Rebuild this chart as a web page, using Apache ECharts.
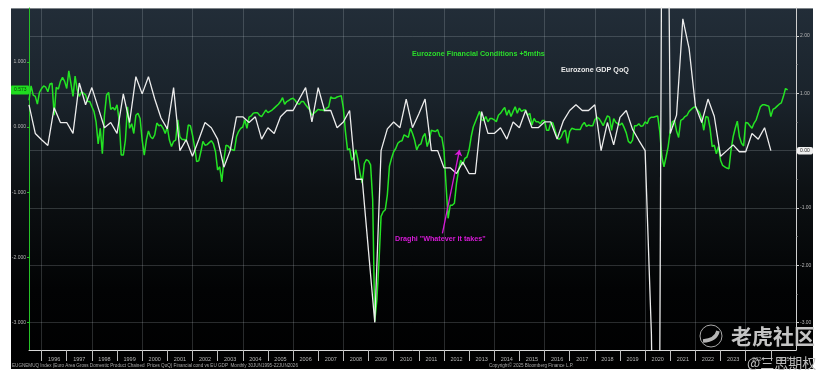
<!DOCTYPE html>
<html><head><meta charset="utf-8">
<style>html,body{margin:0;padding:0;background:#fff}#c{width:832px;height:384px}</style>
<script src="https://cdn.jsdelivr.net/npm/echarts@6/dist/echarts.min.js"></script>
</head><body><div id="c"></div>
<script>
// Eurozone GDP QoQ, quarterly from mid-1995 (right axis)
const gdpStart = 1995.5;
const gdpValues = [
  .80,.30,
  .19,.09,.75,.49,
  .49,.30,1.18,.80,
  1.10,.75,.40,.49,
  .30,.99,.49,1.29,
  .99,1.29,.90,.57,
  .38,1.10,0,.19,
  -.10,.19,.49,.40,
  .20,-.29,0,.59,
  .59,.49,.59,.20,
  .40,.30,.59,.70,
  .70,.90,1.10,.50,
  1.10,.70,.70,.40,
  .50,.70,-.50,-.50,
  -1.75,-3.00,0,.38,
  .50,.40,.90,.40,
  .64,.90,0,0,
  -.30,-.30,-.40,-.20,
  -.40,-.40,.68,.30,
  .30,.40,.20,.50,
  .40,.70,.40,.40,
  .50,.50,.20,.52,
  .70,.80,.70,.70,
  .80,0,.49,.10,
  .58,.70,.37,.18,
  0,-3.20,-11.70,12.40,
  .30,.62,2.30,1.78,
  .78,.49,.90,.60,
  -.10,0,.10,-.02,
  -.02,.30,.20,.40,
  0
];
// Eurozone financial conditions +5 months, monthly from mid-1995 (left axis)
const fcStart = 1995.5;
const fcValues = [
  .41,.63,.49,.47,.35,.53,
  .59,.63,.61,.54,.66,.67,.18,.61,.58,.70,.76,.70,
  .59,.86,.67,.47,.78,.57,.47,.54,.52,.49,.39,.39,
  .31,.24,.08,-.26,-.02,-.41,.18,.49,.53,.27,.30,.26,
  .34,.11,-.43,-.43,-.20,.31,-.02,.05,-.10,.18,.21,.13,
  -.20,-.43,-.20,-.06,-.15,-.18,-.12,.06,.02,.03,-.02,-.10,
  0,-.20,-.30,-.22,-.20,.11,-.15,-.19,-.19,-.22,.03,.02,
  -.12,-.30,-.53,-.52,-.38,-.22,-.28,-.27,-.24,-.21,-.26,-.38,
  -.66,-.61,-.84,-.51,-.28,-.29,-.33,-.35,-.36,-.15,-.07,-.02,
  0,.11,-.02,.15,.17,.21,.22,.22,.18,.16,.21,.26,
  .22,.24,.26,.29,.32,.35,.39,.45,.35,.39,.41,.43,
  .44,.41,.36,.35,.39,.39,.34,.30,.26,.18,.21,.24,
  .27,.26,.26,.25,.29,.31,.46,.44,.44,.46,.47,.48,
  .29,-.07,-.35,-.33,-.51,-.46,-.35,-.51,-.71,-.86,-.56,-.50,
  -.52,-.58,-1.12,-2.98,-2.65,-2.07,-1.37,-1.30,-1.27,-1.04,-.60,-.48,
  -.38,-.33,-.25,-.22,-.21,-.12,-.14,-.16,-.02,-.10,-.20,-.35,
  -.28,-.26,-.15,-.10,-.30,-.20,-.05,-.06,-.07,-.04,-.14,-.16,
  -.35,-.89,-1.40,-1.20,-1.20,-1.17,-.86,-.66,-.51,-.58,-.48,-.46,
  -.35,-.15,0,.08,.16,.24,.11,.10,.16,.08,.13,.13,
  .11,.08,.18,.21,.26,.30,.18,.26,.16,.24,.31,.21,
  .29,.24,.26,.26,.18,.21,.03,.13,.08,.08,.05,.10,
  .10,-.05,-.05,.07,.06,-.05,-.16,-.19,-.15,-.07,-.05,-.25,
  -.07,-.02,-.03,-.04,-.04,-.04,.03,.07,.01,.03,.02,.02,
  .11,.15,.13,.08,.02,.10,.17,.15,-.05,.13,.07,.05,
  .03,.06,-.01,-.09,-.22,-.25,-.20,.02,.02,.05,.01,.02,
  .08,.05,.13,.15,.15,.16,.17,-.07,-.46,-.61,-.46,-.30,
  -.06,.08,.10,-.06,-.16,.10,.12,.16,.18,.24,.27,.30,
  .31,.26,.22,.13,-.05,.16,.15,-.02,-.30,-.28,-.41,-.30,
  -.51,-.59,-.61,-.63,-.64,-.35,-.15,-.02,.09,-.15,-.25,-.29,
  .07,.06,.02,-.02,.06,.11,.21,.31,.34,.34,.33,.32,
  .16,.27,.29,.32,.35,.37,.47,.59,.57
];
const yearTicks = [1996,1997,1998,1999,2000,2001,2002,2003,2004,2005,2006,2007,2008,2009,2010,2011,2012,2013,2014,2015,2016,2017,2018,2019,2020,2021,2022,2023,2024,2025];
const gridYears = [1996,1998,2000,2002,2004,2006,2008,2010,2012,2014,2016,2018,2020,2022,2024];
const leftTicks = [-3,-2,-1,0,1];
const rightTicks = [-3,-2,-1,0,1,2];
const rightHalfTicks = [-2.5,-1.5,-0.5,0.5,1.5];
const arrowFrom = [2011.94,-1.63], arrowTo = [2012.62,-0.35];
const titleFC = 'Eurozone Financial Conditions +5mths';
const titleGDP = 'Eurozone GDP QoQ';
const titleDraghi = 'Draghi "Whatever it takes"';
const footLeft = 'EUGNEMUQ Index (Euro Area Gross Domestic Product Chained  Prices QoQ) Financial cond vs EU GDP  Monthly 30JUN1995-22JUN2026';
const footRight = 'Copyright\u00a9 2025 Bloomberg Finance L.P.';

const FONT = '"Liberation Sans",Arial,sans-serif';
const GREEN = '#24e324', WHITE = '#ececec', MAG = '#d81ad8';
const xMin = 1995.5, xMax = 2026;
const grey = 'rgba(205,215,220,0.20)';
const chart = echarts.init(document.getElementById('c'));
const txt = (x,y,s,size,fill,extra) => ({type:'text',z:100,x,y,style:Object.assign({text:s,font:size,fill,textVerticalAlign:'middle'},extra||{})});
chart.setOption({
  animation:false,
  backgroundColor:'#fff',
  grid:{left:29,right:36,top:8,bottom:34,containLabel:false},
  xAxis:[
    {type:'value',min:xMin,max:xMax,position:'bottom',
     axisLine:{show:true,onZero:false,lineStyle:{color:'#d8d8d8',width:1}},
     axisTick:{show:true,length:11,customValues:yearTicks,lineStyle:{color:'#bdbdbd',width:1}},
     axisLabel:{show:true,customValues:yearTicks.map(y=>y+0.5),formatter:v=>String(Math.floor(v)),color:'#b5b5b5',fontSize:5.5,fontFamily:FONT,margin:6,showMinLabel:true,showMaxLabel:true},
     splitLine:{show:false}},
    {type:'value',min:xMin,max:xMax,position:'bottom',
     axisLine:{show:false},axisLabel:{show:false},
     axisTick:{show:false,customValues:gridYears},
     splitLine:{show:true,lineStyle:{color:grey,width:1}}}
  ],
  yAxis:[
    {type:'value',min:-3.42,max:1.825,position:'left',
     axisLine:{show:true,onZero:false,lineStyle:{color:'#27c227',width:1}},
     axisTick:{show:true,length:2,customValues:leftTicks,lineStyle:{color:'#27c227'}},
     axisLabel:{customValues:leftTicks,formatter:v=>v.toFixed(3),color:'#b8b8b8',fontSize:5,fontFamily:FONT,margin:3},
     splitLine:{show:false}},
    {type:'value',min:-3.48,max:2.489,position:'right',
     axisLine:{show:true,onZero:false,lineStyle:{color:'#cfcfcf',width:1}},
     axisTick:{show:true,length:3,inside:false,customValues:rightTicks,lineStyle:{color:'#cfcfcf'}},
     axisLabel:{customValues:rightTicks.filter(v=>v!==0),formatter:v=>v.toFixed(2),color:'#b8b8b8',fontSize:5,fontFamily:FONT,margin:4},
     splitLine:{show:true,lineStyle:{color:grey,width:1}}},
    {type:'value',min:-3.48,max:2.489,position:'right',
     axisLine:{show:false},axisLabel:{show:false},splitLine:{show:false},
     axisTick:{show:true,length:1.5,customValues:rightHalfTicks,lineStyle:{color:'#aaa'}}}
  ],
  series:[
    {name:'Eurozone Financial Conditions +5mths',type:'line',xAxisIndex:0,yAxisIndex:0,clip:true,
     showSymbol:false,symbol:'none',
     lineStyle:{color:GREEN,width:1.5},
     data:fcValues.map((v,i)=>[fcStart+i/12,v]),z:3},
    {name:'Eurozone GDP QoQ',type:'line',xAxisIndex:0,yAxisIndex:1,clip:true,
     showSymbol:false,symbol:'none',
     lineStyle:{color:WHITE,width:1.3},
     data:gdpValues.map((v,i)=>[gdpStart+i/4,v]),z:4,
    },
    {name:'annotation',type:'line',xAxisIndex:0,yAxisIndex:0,data:[],z:5,
     markLine:{silent:true,animation:false,symbol:['none','arrow'],symbolSize:6,label:{show:false},
       lineStyle:{color:MAG,width:1.3,type:'solid'},
       data:[[{coord:arrowFrom},{coord:arrowTo}]]}}
  ],
  graphic:[
    {type:'rect',z:-10,shape:{x:11,y:8,width:802,height:361},
     style:{fill:new echarts.graphic.LinearGradient(0,0,0,1,[
       {offset:0,color:'#222d38'},{offset:0.25,color:'#1a232b'},{offset:0.5,color:'#0d1114'},{offset:0.78,color:'#020304'},{offset:1,color:'#000'}])}},
    {type:'line',z:-5,shape:{x1:11,y1:8.5,x2:813,y2:8.5},style:{stroke:'#7d8489',lineWidth:1}},
    {type:'rect',z:50,shape:{x:11,y:85.5,width:18,height:9,r:1},style:{fill:'#1fdc1f'}},
    txt(14,90,'0.573','5px '+FONT,'#0b3a0b'),
    {type:'rect',z:50,shape:{x:797,y:147,width:16,height:7.5,r:2},style:{fill:'#efefef'}},
    txt(800,150.8,'0.00','5px '+FONT,'#222'),
    txt(412,54.5,titleFC,'bold 7.2px '+FONT,'#2bdc2b'),
    txt(561,70.5,titleGDP,'bold 7.2px '+FONT,'#e8e8e8'),
    txt(395,239.5,titleDraghi,'bold 7.2px '+FONT,MAG),
    txt(12,365.6,footLeft,'4.6px '+FONT,'#a8a8a8'),
    txt(489,365.6,footRight,'4.6px '+FONT,'#a8a8a8'),
    {type:'circle',z:110,shape:{cx:711,cy:336,r:11},style:{fill:'rgba(0,0,0,0)',stroke:'#a9a9a9',lineWidth:1}},
    {type:'bezierCurve',z:110,shape:{x1:718,y1:331,x2:703,y2:341,cpx1:716,cpy1:340},style:{fill:'none',stroke:'#b5b5b5',lineWidth:3.5}},
    txt(731,336,'老虎社区','bold 21px "Noto Sans CJK SC"','#c4c4c4'),
    txt(747,363,'@三思期权','14px "Noto Sans CJK SC"','#bdbdbd')
  ]
});
</script></body></html>
